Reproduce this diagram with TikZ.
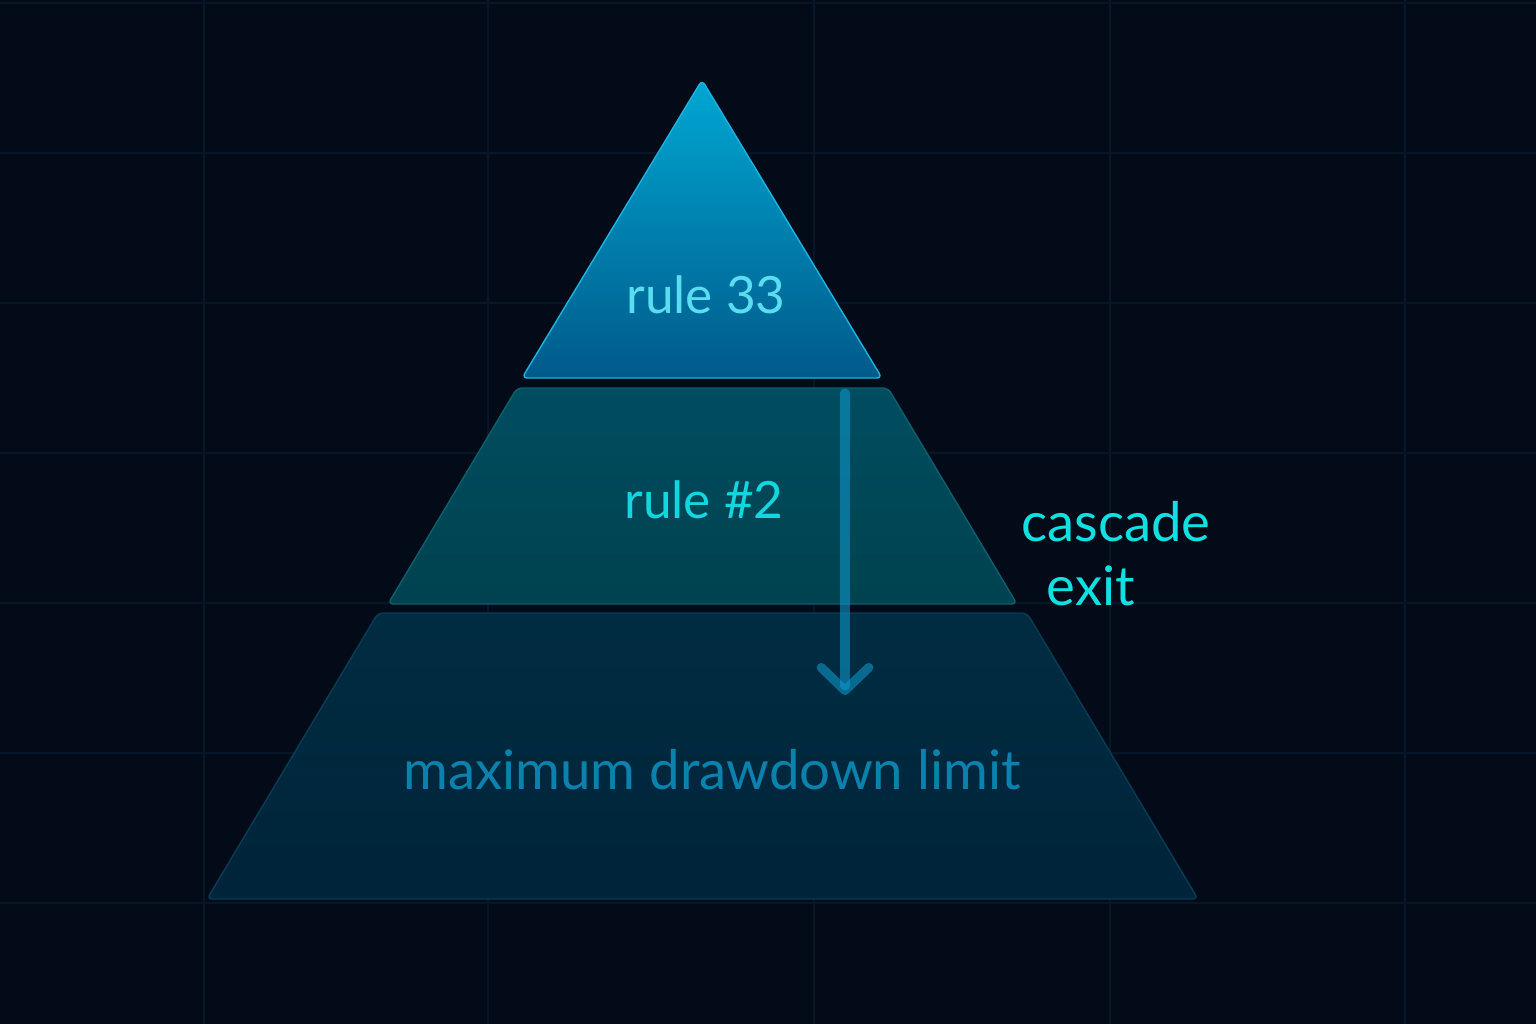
\documentclass[tikz,border=0pt]{standalone}
\usepackage{fontspec}
\setmainfont{Lato}
\usetikzlibrary{arrows.meta}
\definecolor{bgc}{HTML}{020B17}
\definecolor{gridc}{HTML}{081629}
\definecolor{topA}{HTML}{00A7D3}
\definecolor{topB}{HTML}{005A8A}
\definecolor{topE}{HTML}{1AB4E2}
\definecolor{midA}{HTML}{004D60}
\definecolor{midB}{HTML}{00424F}
\definecolor{midE}{HTML}{0A6070}
\definecolor{botA}{HTML}{002C41}
\definecolor{botB}{HTML}{00243A}
\definecolor{botE}{HTML}{073C55}
\definecolor{txtA}{HTML}{5ADDF0}
\definecolor{txtB}{HTML}{12D6E0}
\definecolor{txtC}{HTML}{0A82AD}
\definecolor{txtD}{HTML}{10E0E2}
\definecolor{arrc}{HTML}{0E96C8}
\begin{document}
\begin{tikzpicture}[x=0.01cm, y=-0.01cm,
    gridline/.style={draw=gridc, line width=0.3pt},
    layer/.style={rounded corners=1.5pt, line width=0.4pt},
    lbl/.style={font=\fontsize{15.5}{18}\selectfont, inner sep=0pt, anchor=base},
    rulelbl/.style={lbl, font=\fontsize{14.6}{18}\selectfont}]

    \fill[bgc] (0,0) rectangle (1536,1024);
    \useasboundingbox (0,0) rectangle (1536,1024);

    % grid
    \foreach \gy in {3,153,303,453,603,753,903}
        \draw[gridline] (0,\gy) -- (1536,\gy);
    \foreach \gx in {204,488,814,1110,1405}
        \draw[gridline] (\gx,0) -- (\gx,1024);

    % layers
    \shadedraw[layer, top color=botA, bottom color=botB, draw=botE]
        (378,613) -- (1027,613) -- (1198,899) -- (207,899) -- cycle;
    \shadedraw[layer, top color=midA, bottom color=midB, draw=midE]
        (517,388) -- (888,388) -- (1017,604) -- (388,604) -- cycle;
    \shadedraw[layer, top color=topA, bottom color=topB, draw=topE]
        (702,80) -- (882,378) -- (522,378) -- cycle;

    \node[rulelbl, text=txtA] (rule33) at (706,313) {rule 33};
    \node[rulelbl, text=txtB] (rule2) at (704,518) {rule \#2};
    \node[lbl, text=txtC] (mddl) at (712,789) {maximum drawdown limit};
    \node[lbl, text=txtD] (cascade) at (1116,541) {cascade};
    \node[lbl, text=txtD] (exit) at (1091,605) {exit};

    % cascade arrow
    \coordinate (arrtop) at (845,393);
    \coordinate (arrtip) at (845,695);
    \draw[arrc, draw opacity=0.6, line width=2.6pt, line cap=round,
        -{Straight Barb[length=6.5pt, width=13.5pt, line cap=round, line join=round]}]
        (arrtop) -- (arrtip);

\end{tikzpicture}
\end{document}
